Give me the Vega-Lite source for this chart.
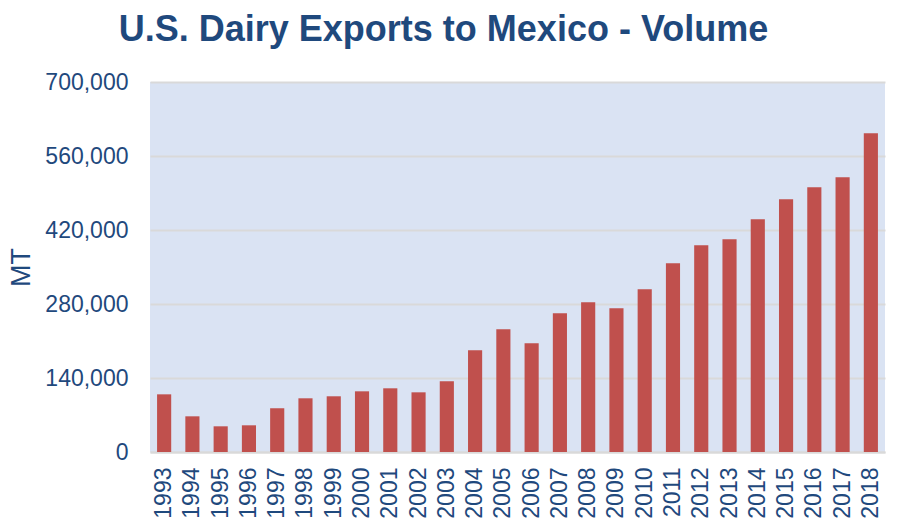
{
  "$schema": "https://vega.github.io/schema/vega-lite/v6.json",
  "autosize": {"type": "none"},
  "width": 735,
  "height": 370,
  "padding": {"left": 150, "top": 82, "right": 18, "bottom": 73},
  "background": "white",
  "title": {
    "text": "U.S. Dairy Exports to Mexico - Volume",
    "font": "Liberation Sans",
    "fontSize": 36,
    "fontWeight": "bold",
    "color": "#1F497D",
    "anchor": "middle",
    "dx": -74,
    "offset": 22
  },
  "config": {
    "view": {"fill": "#DAE3F3", "stroke": null},
    "axis": {"labelFont": "Liberation Sans", "titleFont": "Liberation Sans"}
  },
  "data": {
    "values": [
      {"year": "1993", "mt": 109100},
      {"year": "1994", "mt": 67500},
      {"year": "1995", "mt": 48600},
      {"year": "1996", "mt": 50500},
      {"year": "1997", "mt": 82700},
      {"year": "1998", "mt": 101600},
      {"year": "1999", "mt": 105400},
      {"year": "2000", "mt": 114800},
      {"year": "2001", "mt": 120500},
      {"year": "2002", "mt": 112900},
      {"year": "2003", "mt": 133700},
      {"year": "2004", "mt": 192400},
      {"year": "2005", "mt": 232100},
      {"year": "2006", "mt": 205600},
      {"year": "2007", "mt": 262400},
      {"year": "2008", "mt": 283200},
      {"year": "2009", "mt": 271900},
      {"year": "2010", "mt": 307800},
      {"year": "2011", "mt": 357000},
      {"year": "2012", "mt": 391100},
      {"year": "2013", "mt": 402400},
      {"year": "2014", "mt": 440200},
      {"year": "2015", "mt": 478100},
      {"year": "2016", "mt": 500800},
      {"year": "2017", "mt": 519700},
      {"year": "2018", "mt": 603000}
    ]
  },
  "mark": {"type": "bar", "color": "#C0504D"},
  "encoding": {
    "x": {
      "field": "year",
      "type": "ordinal",
      "scale": {"paddingInner": 0.5, "paddingOuter": 0.25},
      "axis": {
        "title": null,
        "labelAngle": -90,
        "labelAlign": "right",
        "labelBaseline": "middle",
        "labelFontSize": 23,
        "labelColor": "#1F497D",
        "labelPadding": 15,
        "ticks": false,
        "tickSize": 0,
        "domain": true,
        "domainColor": "#D9D9D9",
        "domainWidth": 2,
        "grid": false
      }
    },
    "y": {
      "field": "mt",
      "type": "quantitative",
      "scale": {"domain": [0, 700000], "nice": false},
      "axis": {
        "title": "MT",
        "titleFontSize": 27,
        "titleFontWeight": "normal",
        "titleColor": "#1F497D",
        "titlePadding": 9,
        "values": [0, 140000, 280000, 420000, 560000, 700000],
        "format": ",d",
        "labelFontSize": 23,
        "labelColor": "#1F497D",
        "labelPadding": 22,
        "ticks": false,
        "tickSize": 0,
        "domain": false,
        "grid": true,
        "gridColor": "#D9D9D9",
        "gridWidth": 2
      }
    }
  }
}
